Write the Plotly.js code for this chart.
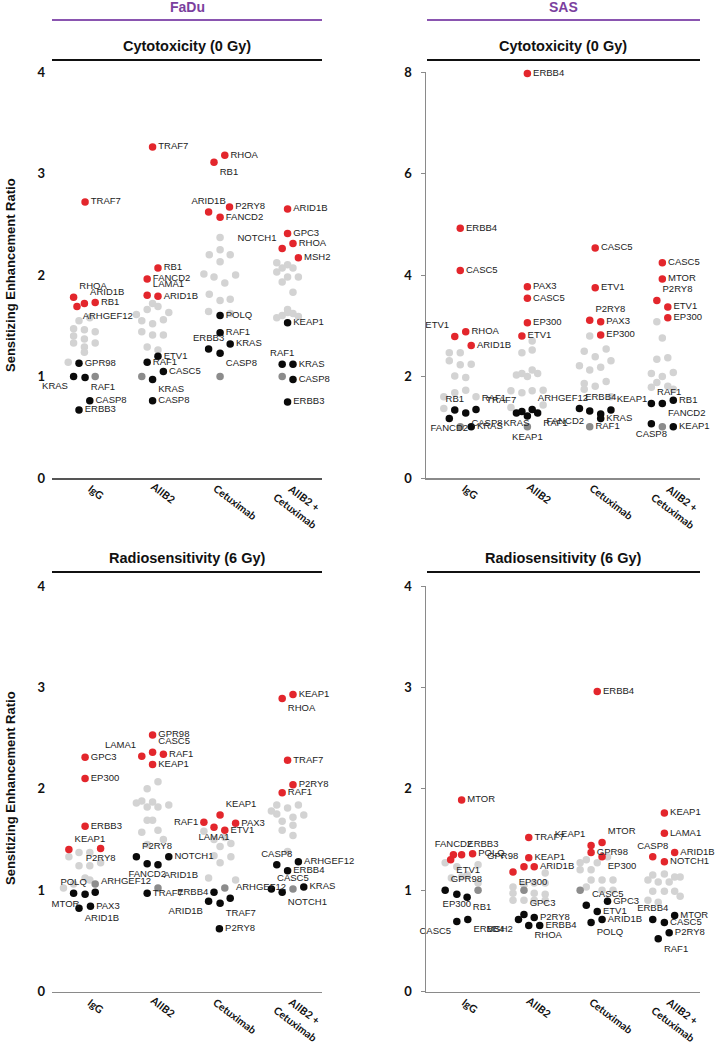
<!DOCTYPE html>
<html>
<head>
<meta charset="utf-8">
<script src="https://cdn.plot.ly/plotly-3.0.1.min.js"></script>
<style>html,body{margin:0;padding:0;background:#fff}#chart{width:718px;height:1043px}</style>
</head>
<body>
<div id="chart"></div>
<script>
// ---------------- DATA ----------------
const CATS = ['IgG', 'AIIB2', 'Cetuximab', 'AIIB2 +<br>Cetuximab'];
const CELL_LINES = ['FaDu', 'SAS'];
const ASSAYS = ['Cytotoxicity (0 Gy)', 'Radiosensitivity (6 Gy)'];
const Y_TITLE = 'Sensitizing Enhancement Ratio';

// labelled rows: [gene, categoryIndex, jitter, SER value, label side]
const FADU_CYTO_RED = [
  ['TRAF7',0,-0.01,2.72,'middle right'], ['RHOA',0,-0.18,1.78,'top right'], ['ARID1B',0,-0.02,1.72,'top right'],
  ['RB1',0,0.14,1.73,'middle right'], ['ARHGEF12',0,-0.13,1.69,'bottom right'],
  ['TRAF7',1,-0.01,3.26,'middle right'], ['RB1',1,0.07,2.07,'middle right'], ['FANCD2',1,-0.09,1.96,'middle right'],
  ['LAMA1',1,-0.09,1.80,'top right'], ['ARID1B',1,0.07,1.79,'middle right'],
  ['RHOA',2,0.06,3.18,'middle right'], ['RB1',2,-0.10,3.11,'bottom right'], ['ARID1B',2,-0.18,2.62,'top center'],
  ['P2RY8',2,0.13,2.67,'middle right'], ['FANCD2',2,-0.01,2.57,'middle right'],
  ['ARID1B',3,-0.01,2.65,'middle right'], ['GPC3',3,-0.01,2.41,'middle right'], ['NOTCH1',3,-0.09,2.26,'top left'],
  ['RHOA',3,0.07,2.31,'middle right'], ['MSH2',3,0.15,2.17,'middle right']
];
const FADU_CYTO_BLACK = [
  ['GPR98',0,-0.10,1.13,'middle right'], ['KRAS',0,-0.18,1.00,'bottom left'], ['RAF1',0,-0.01,0.99,'bottom right'],
  ['CASP8',0,0.06,0.76,'middle right'], ['ERBB3',0,-0.10,0.67,'middle right'],
  ['ETV1',1,0.07,1.20,'middle right'], ['RAF1',1,-0.09,1.14,'middle right'], ['CASC5',1,0.15,1.05,'middle right'],
  ['KRAS',1,-0.01,0.97,'bottom right'], ['CASP8',1,-0.01,0.76,'middle right'],
  ['POLQ',2,-0.01,1.60,'middle right'], ['RAF1',2,-0.01,1.43,'middle right'], ['KRAS',2,0.14,1.32,'middle right'],
  ['ERBB3',2,-0.18,1.27,'top center'], ['CASP8',2,-0.01,1.23,'bottom right'],
  ['KEAP1',3,-0.01,1.53,'middle right'], ['RAF1',3,-0.09,1.12,'top center'], ['KRAS',3,0.07,1.12,'middle right'],
  ['CASP8',3,0.07,0.97,'middle right'], ['ERBB3',3,-0.01,0.75,'middle right']
];
// control rows: [categoryIndex, jitter, value, gene?, label side?]
const FADU_CYTO_CTRL = [[0,0.14,1.00],[1,-0.17,1.00],[2,-0.01,1.00],[3,-0.09,1.00]];
// unlabelled rows: [categoryIndex, jitter, value]
const FADU_CYTO_GRAY = [
  [0,-0.18,1.47],[0,-0.02,1.46],[0,0.14,1.44],[0,-0.18,1.40],[0,-0.02,1.37],[0,-0.18,1.33],[0,0.14,1.33],
  [0,-0.02,1.29],[0,-0.02,1.24],[0,-0.26,1.14],[0,0.06,1.58],[0,-0.10,1.55],
  [1,-0.25,1.61],[1,-0.09,1.66],[1,0.07,1.69],[1,0.23,1.63],[1,-0.17,1.55],[1,-0.01,1.52],[1,0.15,1.56],
  [1,-0.17,1.44],[1,-0.01,1.41],[1,0.15,1.41],[1,-0.09,1.29],[1,0.07,1.26],[1,-0.01,1.72],
  [2,-0.01,2.37],[2,-0.01,2.25],[2,-0.17,2.20],[2,0.14,2.20],[2,-0.01,2.13],[2,-0.25,2.01],[2,-0.10,1.98],
  [2,0.22,2.00],[2,0.06,1.92],[2,-0.17,1.81],[2,-0.01,1.75],[2,0.14,1.76],[2,-0.18,1.64],[2,0.14,1.62],
  [3,-0.17,2.12],[3,-0.09,2.07],[3,-0.01,2.10],[3,0.07,2.07],[3,-0.17,2.03],[3,-0.01,1.98],[3,0.15,1.98],
  [3,-0.09,1.93],[3,0.07,1.83],[3,-0.01,1.66],[3,-0.17,1.58],[3,-0.09,1.60],[3,-0.01,1.63],[3,0.07,1.62],[3,0.15,1.59]
];

const SAS_CYTO_RED = [
  ['ERBB4',0,0.00,4.92,'middle right'], ['CASC5',0,0.00,4.09,'middle right'], ['ETV1',0,-0.08,2.79,'top left'],
  ['RHOA',0,0.08,2.88,'middle right'], ['ARID1B',0,0.16,2.61,'middle right'],
  ['ERBB4',1,-0.02,7.97,'middle right'], ['PAX3',1,-0.02,3.77,'middle right'], ['CASC5',1,-0.02,3.54,'middle right'],
  ['EP300',1,-0.02,3.06,'middle right'], ['ETV1',1,-0.10,2.80,'middle right'],
  ['CASC5',2,-0.03,4.53,'middle right'], ['ETV1',2,-0.03,3.75,'middle right'], ['P2RY8',2,-0.11,3.11,'top right'],
  ['PAX3',2,0.05,3.08,'middle right'], ['EP300',2,0.05,2.82,'middle right'],
  ['CASC5',3,-0.05,4.24,'middle right'], ['MTOR',3,-0.05,3.92,'middle right'], ['P2RY8',3,-0.13,3.50,'top right'],
  ['ETV1',3,0.03,3.37,'middle right'], ['EP300',3,0.03,3.16,'middle right']
];
const SAS_CYTO_BLACK = [
  ['RB1',0,-0.08,1.34,'top center'], ['RAF1',0,0.23,1.35,'top right'], ['CASP8',0,0.08,1.28,'bottom right'],
  ['FANCD2',0,-0.16,1.17,'bottom center'], ['KRAS',0,0.16,1.01,'middle right'],
  ['KRAS',1,-0.18,1.28,'bottom center'], ['TRAF7',1,-0.10,1.31,'top left'], ['',1,-0.02,1.22,'middle right'],
  ['ARHGEF12',1,0.05,1.35,'top right'], ['RAF1',1,0.13,1.28,'bottom right'],
  ['ERBB4',2,-0.26,1.37,'top right'], ['FANCD2',2,-0.11,1.32,'bottom left'], ['',2,0.05,1.26,'middle right'],
  ['KRAS',2,0.05,1.17,'middle right'], ['KEAP1',2,0.20,1.34,'top right'],
  ['RAF1',3,-0.21,1.47,'top right'], ['FANCD2',3,-0.05,1.47,'bottom right'], ['RB1',3,0.11,1.53,'middle right'],
  ['CASP8',3,-0.21,1.07,'bottom center'], ['KEAP1',3,0.11,1.01,'middle right']
];
const SAS_CYTO_CTRL = [[0,0.00,1.01],[1,-0.02,1.01,'KEAP1','bottom center'],[2,-0.11,1.01,'RAF1','middle right'],[3,-0.05,1.01]];
const SAS_CYTO_GRAY = [
  [0,-0.16,2.47],[0,0.00,2.47],[0,-0.16,2.31],[0,0.00,2.23],[0,0.16,2.24],[0,-0.08,2.01],[0,0.08,1.98],
  [0,-0.08,1.68],[0,0.08,1.73],[0,-0.24,1.60],[0,0.23,1.60],[0,-0.24,1.37],
  [1,0.05,2.70],[1,-0.10,2.47],[1,0.05,2.52],[1,-0.18,2.03],[1,-0.10,2.06],[1,-0.02,2.00],[1,0.05,2.13],
  [1,0.13,2.06],[1,-0.26,1.72],[1,-0.10,1.68],[1,0.05,1.72],[1,0.21,1.73],[1,0.21,1.44],[1,-0.26,1.39],
  [2,-0.11,2.80],[2,-0.03,2.39],[2,-0.19,2.50],[2,0.13,2.54],[2,-0.26,2.21],[2,-0.11,2.13],[2,0.05,2.18],
  [2,0.20,2.31],[2,-0.19,1.86],[2,-0.03,1.81],[2,0.13,1.90],[2,-0.19,1.75],[2,0.20,1.60],
  [3,-0.13,3.08],[3,-0.05,2.76],[3,-0.13,2.34],[3,0.03,2.37],[3,-0.21,2.06],[3,-0.05,2.00],[3,0.11,2.08],
  [3,-0.13,1.88],[3,-0.21,1.79],[3,0.03,1.81],[3,0.11,1.75]
];

const FADU_RADIO_RED = [
  ['GPC3',0,-0.01,2.31,'middle right'], ['EP300',0,-0.01,2.10,'middle right'], ['ERBB3',0,-0.01,1.63,'middle right'],
  ['KEAP1',0,-0.25,1.40,'top right'], ['P2RY8',0,0.22,1.41,'bottom center'],
  ['GPR98',1,-0.01,2.53,'middle right'], ['CASC5',1,-0.01,2.36,'top right'], ['LAMA1',1,-0.17,2.32,'top left'],
  ['RAF1',1,0.15,2.34,'middle right'], ['KEAP1',1,-0.01,2.24,'middle right'],
  ['RAF1',2,-0.25,1.67,'middle left'], ['KEAP1',2,-0.01,1.74,'top right'], ['PAX3',2,0.22,1.66,'middle right'],
  ['LAMA1',2,-0.10,1.62,'bottom center'], ['ETV1',2,0.06,1.59,'middle right'],
  ['KEAP1',3,0.07,2.93,'middle right'], ['RHOA',3,-0.09,2.89,'bottom right'], ['TRAF7',3,-0.01,2.28,'middle right'],
  ['P2RY8',3,0.07,2.04,'middle right'], ['RAF1',3,-0.09,1.96,'middle right']
];
const FADU_RADIO_BLACK = [
  ['POLQ',0,-0.18,0.97,'top center'], ['MTOR',0,-0.01,0.96,'bottom left'], ['ARHGEF12',0,0.14,0.98,'top right'],
  ['ARID1B',0,-0.10,0.82,'bottom right'], ['PAX3',0,0.07,0.84,'middle right'],
  ['P2RY8',1,-0.25,1.33,'top right'], ['NOTCH1',1,0.23,1.33,'middle right'], ['FANCD2',1,-0.09,1.26,'bottom center'],
  ['ARID1B',1,0.07,1.25,'bottom right'], ['TRAF7',1,-0.09,0.97,'middle right'],
  ['ERBB4',2,-0.10,0.98,'middle left'], ['ARHGEF12',2,0.14,0.92,'top right'], ['ARID1B',2,-0.18,0.89,'bottom left'],
  ['TRAF7',2,-0.01,0.87,'bottom right'], ['P2RY8',2,-0.02,0.62,'middle right'],
  ['CASP8',3,-0.17,1.25,'top center'], ['ARHGEF12',3,0.15,1.28,'middle right'], ['ERBB4',3,-0.01,1.19,'middle right'],
  ['CASC5',3,-0.25,1.01,'top right'], ['NOTCH1',3,-0.09,0.98,'bottom right'], ['KRAS',3,0.23,1.03,'middle right']
];
const FADU_RADIO_CTRL = [[0,0.14,1.06],[1,0.07,1.02],[2,0.06,1.02],[3,0.07,1.01]];
const FADU_RADIO_GRAY = [
  [0,-0.25,1.33],[0,-0.10,1.37],[0,0.06,1.37],[0,-0.10,1.24],[0,0.06,1.24],[0,0.22,1.27],[0,-0.01,1.12],
  [0,-0.18,1.06],[0,0.06,1.10],[0,-0.33,1.02],
  [1,0.07,2.07],[1,-0.09,2.00],[1,-0.25,1.86],[1,-0.17,1.88],[1,-0.01,1.87],[1,-0.09,1.82],[1,0.07,1.82],
  [1,0.23,1.84],[1,-0.09,1.69],[1,-0.01,1.69],[1,-0.17,1.57],[1,0.07,1.59],[1,0.15,1.50],[1,-0.09,1.45],
  [2,-0.25,1.58],[2,-0.01,1.43],[2,0.15,1.46],[2,-0.10,1.34],[2,0.15,1.33],[2,-0.01,1.27],[2,0.06,1.52],
  [2,-0.10,1.50],[2,0.22,1.10],[2,-0.18,1.12],
  [3,-0.17,1.84],[3,-0.01,1.81],[3,0.15,1.84],[3,0.23,1.74],[3,-0.17,1.75],[3,-0.09,1.68],[3,0.07,1.64],
  [3,-0.09,1.59],[3,0.07,1.54],[3,-0.01,1.38],[3,-0.25,1.78],[3,0.07,1.72]
];

const SAS_RADIO_RED = [
  ['MTOR',0,0.02,1.89,'middle right'], ['FANCD2',0,-0.10,1.35,'top center'], ['ERBB3',0,0.02,1.35,'top right'],
  ['POLQ',0,0.18,1.36,'middle right'], ['ETV1',0,-0.14,1.30,'bottom right'],
  ['TRAF7',1,0.00,1.52,'middle right'], ['KEAP1',1,0.00,1.32,'middle right'], ['GPR98',1,-0.07,1.23,'top left'],
  ['ARID1B',1,0.08,1.23,'middle right'], ['EP300',1,-0.23,1.18,'bottom right'],
  ['ERBB4',2,0.00,2.96,'middle right'], ['KEAP1',2,-0.09,1.44,'top left'], ['MTOR',2,0.07,1.47,'top right'],
  ['GPR98',2,-0.09,1.37,'middle right'], ['EP300',2,0.07,1.33,'bottom right'],
  ['KEAP1',3,-0.02,1.76,'middle right'], ['LAMA1',3,-0.02,1.56,'middle right'], ['CASP8',3,-0.19,1.33,'top center'],
  ['ARID1B',3,0.13,1.37,'middle right'], ['NOTCH1',3,-0.02,1.28,'middle right']
];
const SAS_RADIO_BLACK = [
  ['GPR98',0,-0.22,1.00,'top right'], ['EP300',0,-0.05,0.96,'bottom center'], ['RB1',0,0.10,0.93,'bottom right'],
  ['CASC5',0,-0.05,0.69,'bottom left'], ['ERBB4',0,0.11,0.71,'bottom right'],
  ['GPC3',1,-0.07,0.76,'top right'], ['P2RY8',1,0.08,0.73,'middle right'], ['MSH2',1,-0.15,0.71,'bottom left'],
  ['RHOA',1,0.00,0.65,'bottom right'], ['ERBB4',1,0.16,0.65,'middle right'],
  ['CASC5',2,-0.16,0.85,'top right'], ['GPC3',2,0.15,0.89,'middle right'], ['ETV1',2,0.00,0.79,'middle right'],
  ['POLQ',2,-0.09,0.68,'bottom right'], ['ARID1B',2,0.07,0.71,'middle right'],
  ['ERBB4',3,-0.19,0.71,'top center'], ['MTOR',3,0.13,0.75,'middle right'], ['CASC5',3,-0.02,0.68,'middle right'],
  ['P2RY8',3,0.05,0.58,'middle right'], ['RAF1',3,-0.11,0.52,'bottom right']
];
const SAS_RADIO_CTRL = [[0,0.26,1.00],[1,-0.07,1.00],[2,-0.25,1.00]];
const SAS_RADIO_GRAY = [
  [0,-0.22,1.27],[0,-0.05,1.23],[0,0.10,1.15],[0,0.02,1.13],[0,0.26,1.07],[0,0.26,1.25],[0,-0.13,1.12],
  [1,-0.23,1.03],[1,0.08,1.07],[1,0.24,1.07],[1,-0.23,0.97],[1,-0.23,0.90],[1,0.08,0.97],[1,0.24,0.96],
  [1,0.08,0.90],[1,0.24,0.90],[1,-0.07,0.90],[1,0.24,1.17],[1,-0.07,1.05],
  [2,-0.16,1.30],[2,0.00,1.27],[2,0.15,1.33],[2,-0.25,1.20],[2,-0.09,1.20],[2,-0.09,1.10],[2,0.07,1.10],
  [2,0.23,1.10],[2,-0.16,1.03],[2,0.07,1.00],[2,0.23,1.00],[2,-0.25,1.27],
  [3,-0.19,1.15],[3,-0.02,1.16],[3,0.13,1.13],[3,-0.26,1.10],[3,-0.11,1.08],[3,0.05,1.08],[3,0.21,1.13],
  [3,-0.19,0.99],[3,-0.02,0.99],[3,0.13,0.99],[3,-0.26,0.90],[3,-0.11,0.88],[3,0.21,0.94]
];

// ---------------- STYLE ----------------
const RED = '#e3262c', BLACK = '#0a0a0a', LIGHT = '#d3d3d3', DARK = '#8c8c8c';
const MS = 7.5;
const LABEL_FONT = {family: 'Liberation Sans, Arial, sans-serif', size: 9.5, color: '#222'};
const W = 718, H = 1043;
const px = v => v / W, py = v => 1 - v / H;
// pixel shift of the centre of each line of each rotated category label from its tick on the axis line
const CAT_LINE_SHIFT = [[[10, 14]], [[10, 15]], [[14, 24]], [[16, 19.5], [7, 32.5]]];
const CAT_ANGLE = 37;

const panels = [
  {xa: 'x',  ya: 'y',  red: FADU_CYTO_RED, black: FADU_CYTO_BLACK, ctrl: FADU_CYTO_CTRL, gray: FADU_CYTO_GRAY},
  {xa: 'x2', ya: 'y2', red: SAS_CYTO_RED, black: SAS_CYTO_BLACK, ctrl: SAS_CYTO_CTRL, gray: SAS_CYTO_GRAY},
  {xa: 'x3', ya: 'y3', red: FADU_RADIO_RED, black: FADU_RADIO_BLACK, ctrl: FADU_RADIO_CTRL, gray: FADU_RADIO_GRAY},
  {xa: 'x4', ya: 'y4', red: SAS_RADIO_RED, black: SAS_RADIO_BLACK, ctrl: SAS_RADIO_CTRL, gray: SAS_RADIO_GRAY}
];

const traces = [];
const catAnnotations = [];
const catFont = {family: 'Lato, Open Sans, sans-serif', size: 10.5, weight: 'bold', color: '#111'};
panels.forEach(p => {
  traces.push({
    type: 'scatter', mode: 'markers', xaxis: p.xa, yaxis: p.ya, hoverinfo: 'skip', cliponaxis: false,
    x: p.gray.map(r => r[0] + r[1]), y: p.gray.map(r => r[2]),
    marker: {size: MS, color: LIGHT}
  });
  traces.push({
    type: 'scatter', mode: 'markers+text', xaxis: p.xa, yaxis: p.ya, hoverinfo: 'skip', cliponaxis: false,
    x: p.ctrl.map(r => r[0] + r[1]), y: p.ctrl.map(r => r[2]),
    text: p.ctrl.map(r => r[3] || ''), textposition: p.ctrl.map(r => r[4] || 'middle right'),
    textfont: LABEL_FONT, marker: {size: MS, color: DARK}
  });
  [[p.black, BLACK], [p.red, RED]].forEach(([rows, col]) => {
    traces.push({
      type: 'scatter', mode: 'markers+text', xaxis: p.xa, yaxis: p.ya, hoverinfo: 'skip', cliponaxis: false,
      x: rows.map(r => r[1] + r[2]), y: rows.map(r => r[3]),
      text: rows.map(r => r[0]), textposition: rows.map(r => r[4]),
      textfont: LABEL_FONT, marker: {size: MS, color: col}
    });
  });
  CATS.forEach((c, i) => {
    c.split('<br>').forEach((line, k) => {
      const s = CAT_LINE_SHIFT[i][k];
      catAnnotations.push({
        text: line, xref: p.xa, yref: p.ya, x: i, y: 0, xshift: s[0], yshift: -s[1],
        textangle: CAT_ANGLE, showarrow: false, xanchor: 'center', yanchor: 'middle', font: catFont
      });
    });
  });
});

const xL = [px(52), px(322)], xR = [px(426), px(700)];
const yT = [py(478), py(72)], yB = [py(991.5), py(586)];
const tickFontY = {family: 'Lato, Open Sans, sans-serif', size: 13, weight: 'bold', color: '#111'};

function xAxis(dom, anchor, lineCol) {
  return {domain: dom, anchor: anchor, range: [-0.5, 3.5], tickvals: [0, 1, 2, 3], showticklabels: false,
    showline: true, linecolor: lineCol, linewidth: 1.5, ticks: '', showgrid: false,
    zeroline: false, fixedrange: true};
}
function yAxis(dom, anchor, rng, dt, showLine) {
  return {domain: dom, anchor: anchor, range: rng, dtick: dt, showline: showLine, linecolor: '#8a8a8a',
    linewidth: 1.5, ticks: showLine ? 'outside' : '', ticklen: 4, tickcolor: '#8a8a8a', showgrid: false,
    zeroline: false, tickfont: tickFontY, ticklabelstandoff: 6, fixedrange: true};
}

const titleFont = {family: 'Liberation Sans, Arial, sans-serif', size: 14.5, color: '#111', weight: 'bold'};
const headFont = {family: 'Liberation Sans, Arial, sans-serif', size: 14, color: '#7b3f9e', weight: 'bold'};
const annotations = [
  {text: CELL_LINES[0], x: px(187), y: py(7), font: headFont},
  {text: CELL_LINES[1], x: px(563), y: py(7), font: headFont},
  {text: ASSAYS[0], x: px(187), y: py(46), font: titleFont},
  {text: ASSAYS[0], x: px(563), y: py(46), font: titleFont},
  {text: ASSAYS[1], x: px(187), y: py(558), font: titleFont},
  {text: ASSAYS[1], x: px(563), y: py(558), font: titleFont},
  {text: Y_TITLE, x: px(10), y: py(275), textangle: -90, font: {family: 'Liberation Sans, Arial, sans-serif', size: 13, color: '#111', weight: 'bold'}},
  {text: Y_TITLE, x: px(10), y: py(788), textangle: -90, font: {family: 'Liberation Sans, Arial, sans-serif', size: 13, color: '#111', weight: 'bold'}}
].map(a => Object.assign({xref: 'paper', yref: 'paper', showarrow: false, xanchor: 'center', yanchor: 'middle'}, a));

const hline = (x0, x1, y, col, w) => ({type: 'line', xref: 'paper', yref: 'paper', x0: px(x0), x1: px(x1), y0: py(y), y1: py(y), line: {color: col, width: w}});
const shapes = [
  hline(52, 322, 20, '#8a55b0', 2), hline(427, 700, 20, '#8a55b0', 2),
  hline(52, 322, 60, '#111', 2), hline(427, 700, 60, '#111', 2),
  hline(52, 322, 572, '#111', 2), hline(427, 700, 572, '#111', 2)
];

const layout = {
  width: W, height: H, margin: {l: 0, r: 0, t: 0, b: 0}, showlegend: false,
  paper_bgcolor: '#fff', plot_bgcolor: '#fff',
  xaxis: xAxis(xL, 'y', '#555'), yaxis: yAxis(yT, 'x', [0, 4], 1, false),
  xaxis2: xAxis(xR, 'y2', '#8a8a8a'), yaxis2: yAxis(yT, 'x2', [0, 8], 2, true),
  xaxis3: xAxis(xL, 'y3', '#8a8a8a'), yaxis3: yAxis(yB, 'x3', [0, 4], 1, false),
  xaxis4: xAxis(xR, 'y4', '#8a8a8a'), yaxis4: yAxis(yB, 'x4', [0, 4], 1, true),
  annotations: annotations.concat(catAnnotations), shapes: shapes
};

Plotly.newPlot('chart', traces, layout, {displayModeBar: false, staticPlot: true});
</script>
</body>
</html>
